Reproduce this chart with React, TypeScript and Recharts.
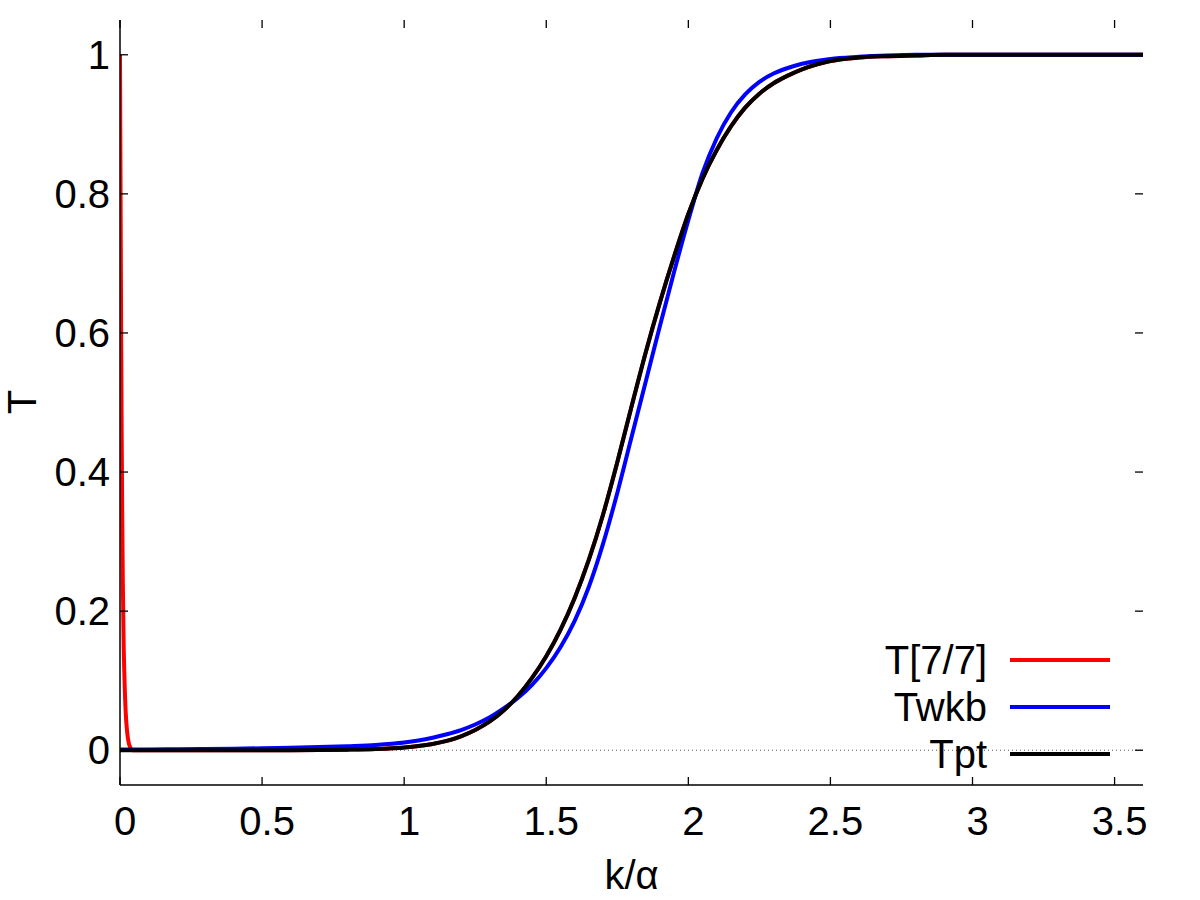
import React from 'react';
import { LineChart, Line, XAxis, YAxis, ReferenceLine, Legend } from 'recharts';

const FONT = '"Liberation Sans", Arial, Helvetica, sans-serif';

// k/alpha grid shared by Twkb and Tpt
const kGrid = [
  0, 0.1, 0.2, 0.3, 0.4, 0.5, 0.6, 0.7, 0.8, 0.9,
  1.0, 1.05, 1.1, 1.15, 1.2, 1.25, 1.3, 1.35, 1.4, 1.45,
  1.5, 1.55, 1.6, 1.65, 1.7, 1.75, 1.8, 1.85, 1.9, 1.95,
  2.0, 2.05, 2.1, 2.15, 2.2, 2.25, 2.3, 2.35, 2.4, 2.45,
  2.5, 2.6, 2.7, 2.8, 2.9, 3.0, 3.2, 3.4, 3.6,
];

const tptValues = [
  0, 0, 0, 0, 0, 0, 0.0001, 0.0003, 0.0008, 0.0018,
  0.004, 0.006, 0.009, 0.0135, 0.02, 0.029, 0.041, 0.057, 0.078, 0.104,
  0.135, 0.173, 0.219, 0.274, 0.339, 0.414, 0.494, 0.572, 0.644, 0.71,
  0.771, 0.822, 0.863, 0.897, 0.924, 0.944, 0.959, 0.97, 0.979, 0.986,
  0.991, 0.996, 0.998, 0.999, 1, 1, 1, 1, 1,
];

const twkbValues = [
  0.001, 0.0012, 0.0015, 0.0018, 0.0022, 0.0028, 0.0035, 0.0045, 0.0058, 0.0075,
  0.011, 0.014, 0.018, 0.023, 0.029, 0.037, 0.047, 0.06, 0.075, 0.094,
  0.118, 0.148, 0.186, 0.235, 0.297, 0.37, 0.45, 0.53, 0.61, 0.688,
  0.762, 0.83, 0.88, 0.917, 0.943, 0.961, 0.973, 0.981, 0.987, 0.991,
  0.994, 0.997, 0.999, 1, 1, 1, 1, 1, 1,
];

// T[7/7]: sharp drop near k = 0, then coincides with Tpt
const padeHeadK = [0, 0.002, 0.004, 0.006, 0.008, 0.01, 0.013, 0.016, 0.02, 0.025, 0.03, 0.035, 0.045];
const padeHeadValues = [1, 0.8, 0.6, 0.45, 0.33, 0.24, 0.15, 0.1, 0.055, 0.027, 0.012, 0.005, 0];
const padeTailK = kGrid.slice(1);
const padeTailValues = tptValues.slice(1);

const xTicks = [0, 0.5, 1, 1.5, 2, 2.5, 3, 3.5];
const yTicks = [0, 0.2, 0.4, 0.6, 0.8, 1];
const xDomain = [0, 3.6];
const yDomain = [-0.05, 1.05];

const seriesNames = ['T[7/7]', 'Twkb', 'Tpt'];
const seriesColors = ['#ff0000', '#0000ff', '#000000'];

const zip = (xs: number[], ys: number[]) => xs.map((x, i) => ({ x, y: ys[i] }));

const padeData = zip(padeHeadK.concat(padeTailK), padeHeadValues.concat(padeTailValues));
const wkbData = zip(kGrid, twkbValues);
const ptData = zip(kGrid, tptValues);

// plot frame (pixels) used only for drawing inward, mirrored tick marks
const PLOT_LEFT = 120;
const PLOT_TOP = 20;
const PLOT_RIGHT = 1143;
const PLOT_BOTTOM = 785;
const TICK_LEN = 8;

const fmt = (v: number) => String(v);

const tickMarkStyle = { stroke: '#000', strokeWidth: 1.3, fill: 'none' };

const BottomTick = (props: any) => {
  const { x, payload } = props;
  return (
    <g>
      <path d={`M${x},${PLOT_BOTTOM}V${PLOT_BOTTOM - TICK_LEN}`} {...tickMarkStyle} />
      <path d={`M${x},${PLOT_TOP}V${PLOT_TOP + TICK_LEN}`} {...tickMarkStyle} />
      <text x={x + 5} y={835} textAnchor="middle" fontSize={40} fontFamily={FONT} fill="#000">
        {fmt(payload.value)}
      </text>
    </g>
  );
};

const LeftTick = (props: any) => {
  const { y, payload } = props;
  return (
    <g>
      <path d={`M${PLOT_LEFT},${y}H${PLOT_LEFT + TICK_LEN}`} {...tickMarkStyle} />
      <path d={`M${PLOT_RIGHT},${y}H${PLOT_RIGHT - TICK_LEN}`} {...tickMarkStyle} />
      <text x={110} y={y + 14} textAnchor="end" fontSize={40} fontFamily={FONT} fill="#000">
        {fmt(payload.value)}
      </text>
    </g>
  );
};

const LegendContent = () => (
  <svg width={300} height={150} style={{ overflow: 'visible' }}>
    {seriesNames.map((name, i) => {
      const cy = 30 + i * 47;
      return (
        <g key={name}>
          <text x={147} y={cy + 14} textAnchor="end" fontSize={40} fontFamily={FONT} fill="#000">
            {name}
          </text>
          <line x1={170} x2={270} y1={cy} y2={cy} stroke={seriesColors[i]} strokeWidth={4} />
        </g>
      );
    })}
  </svg>
);

const axisLineStyle = { stroke: '#000', strokeWidth: 1.5 };

export default function App() {
  return (
    <div style={{ position: 'absolute', left: 0, top: 0, width: 1200, height: 900, background: '#fff' }}>
      <LineChart width={1200} height={900} margin={{ top: 20, right: 57, bottom: 0, left: 0 }}>
        <XAxis
          xAxisId="bottom"
          type="number"
          dataKey="x"
          domain={xDomain}
          ticks={xTicks}
          allowDataOverflow
          height={115}
          tickLine={false}
          tick={BottomTick}
          axisLine={axisLineStyle}
          label={{
            content: () => (
              <text x={631.5} y={889} textAnchor="middle" fontSize={40} fontFamily={FONT} fill="#000">
                k/α
              </text>
            ),
          }}
        />
        <XAxis
          xAxisId="top"
          orientation="top"
          type="number"
          dataKey="x"
          domain={xDomain}
          ticks={xTicks}
          allowDataOverflow
          height={0}
          tickLine={false}
          tick={false}
          axisLine={axisLineStyle}
        />
        <YAxis
          yAxisId="left"
          type="number"
          domain={yDomain}
          ticks={yTicks}
          allowDataOverflow
          width={120}
          tickLine={false}
          tick={LeftTick}
          axisLine={axisLineStyle}
          label={{
            content: () => (
              <text
                x={0}
                y={0}
                transform="translate(36 402) rotate(-90)"
                textAnchor="middle"
                fontSize={40}
                fontFamily={FONT}
                fill="#000"
              >
                T
              </text>
            ),
          }}
        />
        <YAxis
          yAxisId="right"
          orientation="right"
          type="number"
          domain={yDomain}
          ticks={yTicks}
          allowDataOverflow
          width={0}
          tickLine={false}
          tick={false}
          axisLine={axisLineStyle}
        />
        <ReferenceLine
          xAxisId="bottom"
          yAxisId="left"
          y={0}
          stroke="#555"
          strokeWidth={1}
          strokeDasharray="1 3"
        />
        <Line xAxisId="bottom" yAxisId="left" data={padeData} dataKey="y" name={seriesNames[0]} type="monotone"
          stroke={seriesColors[0]} strokeWidth={4} dot={false} isAnimationActive={false} />
        <Line xAxisId="bottom" yAxisId="left" data={wkbData} dataKey="y" name={seriesNames[1]} type="monotone"
          stroke={seriesColors[1]} strokeWidth={4} dot={false} isAnimationActive={false} />
        <Line xAxisId="bottom" yAxisId="left" data={ptData} dataKey="y" name={seriesNames[2]} type="monotone"
          stroke={seriesColors[2]} strokeWidth={4} dot={false} isAnimationActive={false} />
        <Legend
          layout="vertical"
          align="center"
          verticalAlign="middle"
          content={<LegendContent />}
          wrapperStyle={{ left: 840, top: 630, width: 300, height: 150 }}
        />
      </LineChart>
    </div>
  );
}
